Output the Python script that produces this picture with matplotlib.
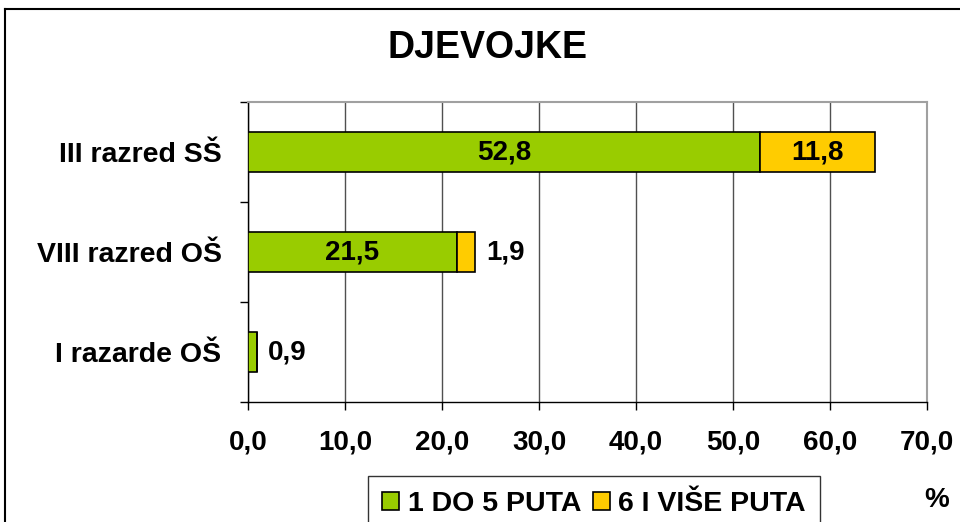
import matplotlib.pyplot as plt
from matplotlib.lines import Line2D
import numpy as np

plt.rcParams['font.family'] = ['Liberation Sans', 'DejaVu Sans']
plt.rcParams['font.weight'] = 'bold'

categories = ['I razarde OŠ', 'VIII razred OŠ', 'III razred SŠ']
series_names = ['1 DO 5 PUTA', '6 I VIŠE PUTA']
few_times = [0.9, 21.5, 52.8]
many_times = [0.0, 1.9, 11.8]
colors = ['#99CC00', '#FFCC00']
xticks = [0, 10, 20, 30, 40, 50, 60, 70]


def fmt(v):
    return ('%.1f' % v).replace('.', ',')


fig = plt.figure(figsize=(9.6, 5.22), dpi=100)
ax = fig.add_axes([248 / 960, 1 - 402 / 522, 679 / 960, 300 / 522])

y = np.arange(len(categories))
height = 0.4

b1 = ax.barh(y, few_times, height, color=colors[0], edgecolor='black', linewidth=1.2,
             label=series_names[0], zorder=3)
b2 = ax.barh(y, many_times, height, left=few_times, color=colors[1], edgecolor='black',
             linewidth=1.2, label=series_names[1], zorder=3)

# value labels: inside the segment if it is wide enough, otherwise right of the bar
for i in range(len(categories)):
    total = few_times[i] + many_times[i]
    for left, val in [(0, few_times[i]), (few_times[i], many_times[i])]:
        if val <= 0:
            continue
        if val > 5:
            ax.text(left + val / 2, y[i], fmt(val), ha='center', va='center',
                    fontsize=20, fontweight='bold', zorder=4)
        else:
            ax.annotate(fmt(val), (total, y[i]), xytext=(8, 0), textcoords='offset points',
                        ha='left', va='center', fontsize=20, fontweight='bold', zorder=4)

ax.set_xlim(0, 70)
ax.set_ylim(-0.5, 2.5)
ax.set_xticks(xticks)
ax.set_xticklabels([fmt(v) for v in xticks], fontsize=20, fontweight='bold')
ax.set_yticks(y)
ax.set_yticklabels(categories, fontsize=20.5, fontweight='bold')
ax.set_yticks([-0.5, 0.5, 1.5, 2.5], minor=True)
ax.tick_params(axis='y', which='major', length=0, pad=19)
ax.tick_params(axis='y', which='minor', length=6, width=1, direction='out')
ax.tick_params(axis='x', length=6, width=1, direction='out', pad=14)

ax.xaxis.grid(True, color='#505050', linewidth=1, zorder=0)
for side in ['top', 'right']:
    ax.spines[side].set_color('#a0a0a0')
    ax.spines[side].set_linewidth(1.5)
for side in ['left', 'bottom']:
    ax.spines[side].set_color('black')
    ax.spines[side].set_linewidth(1)

fig.text(0.508, 1 - 48 / 522, 'DJEVOJKE', ha='center', va='center',
         fontsize=27, fontweight='bold')
fig.text(937 / 960, 1 - 500 / 522, '%', ha='center', va='center',
         fontsize=20, fontweight='bold')

leg = fig.legend(handles=[b1, b2], loc='center', bbox_to_anchor=(0.619, 0.035),
                 ncol=2, frameon=True, fancybox=False, edgecolor='black',
                 prop={'size': 20.5, 'weight': 'bold'}, handlelength=0.6,
                 handleheight=0.6, handletextpad=0.3, columnspacing=0.4,
                 borderpad=0.5, borderaxespad=0)
leg.get_frame().set_linewidth(1)

# outer chart border (cut off at the right and bottom)
fig.add_artist(Line2D([5 / 960, 5 / 960], [-0.1, 1 - 9 / 522], transform=fig.transFigure,
                      color='black', linewidth=1.5))
fig.add_artist(Line2D([5 / 960, 1.1], [1 - 9 / 522, 1 - 9 / 522], transform=fig.transFigure,
                      color='black', linewidth=1.5))

fig.savefig('out.png', dpi=100)
